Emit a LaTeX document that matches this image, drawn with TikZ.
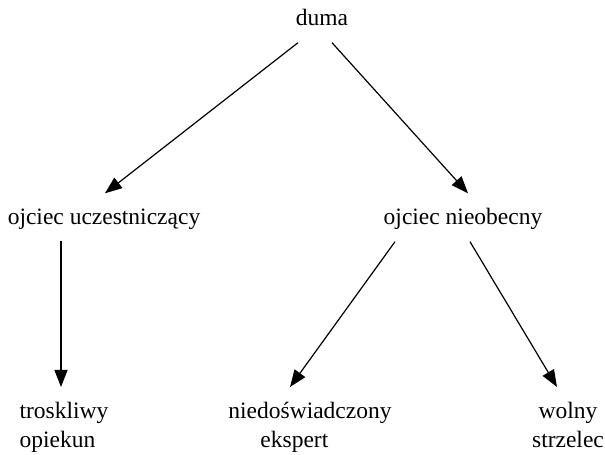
\documentclass[tikz,border=0pt]{standalone}
\usepackage{fontspec}
\setmainfont{Liberation Serif}
\usepackage{tikz}
\usetikzlibrary{arrows.meta}

\begin{document}
\begin{tikzpicture}[x=1pt, y=1pt, >={Triangle[length=17pt, width=13pt]},
    font=\fontsize{23.5}{29}\selectfont,
    word/.style={inner sep=0pt, text height=16pt, text depth=5pt},
    leaf/.style={inner sep=0pt, anchor=north},
    arr/.style={->, line width=1.2pt}]
  \useasboundingbox (0,0) rectangle (605,455);

  % Top and middle level
  \node[word] (duma) at (322, 435) {duma};
  \node[word] (ucz) at (104, 236) {ojciec uczestniczący};
  \node[word] (nieob) at (463, 236) {ojciec nieobecny};

  % Bottom level
  \node[leaf, align=left] (trosk) at (64, 53) {troskliwy\\opiekun};
  \node[leaf, align=left] (niedo) at (310, 53) {niedoświadczony\\\hspace{32pt}ekspert};
  \node[leaf, align=center] (wolny) at (568, 53) {wolny\\strzelec};

  % Arrows
  \draw[arr] ([xshift=-24pt, yshift=-12pt]duma.south) -- ([xshift=1pt, yshift=15pt]ucz.north);
  \draw[arr] ([xshift=10pt, yshift=-12pt]duma.south) -- ([xshift=5pt, yshift=15pt]nieob.north);
  \draw[arr] ([xshift=-43pt, yshift=-11pt]ucz.south) -- ([xshift=-3pt, yshift=15pt]trosk.north);
  \draw[arr] ([xshift=-68pt, yshift=-12pt]nieob.south) -- ([xshift=-20pt, yshift=15pt]niedo.north);
  \draw[arr] ([xshift=7pt, yshift=-12pt]nieob.south) -- ([xshift=-11pt, yshift=15pt]wolny.north);
\end{tikzpicture}
\end{document}
